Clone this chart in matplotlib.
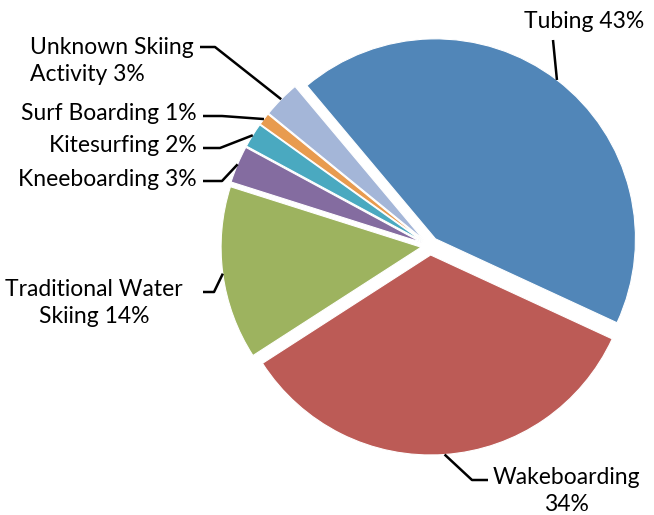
import numpy as np
import matplotlib
matplotlib.use("Agg")
import matplotlib.pyplot as plt

labels = ["Tubing", "Wakeboarding", "Traditional Water Skiing", "Kneeboarding",
          "Kitesurfing", "Surf Boarding", "Unknown Skiing Activity"]
shares = [43, 34, 14, 3, 2, 1, 3]
label_text = ["Tubing 43%", "Wakeboarding\n34%", "Traditional Water\nSkiing 14%",
              "Kneeboarding 3%", "Kitesurfing 2%", "Surf Boarding 1%",
              "Unknown Skiing\nActivity 3%"]
colors = ["#5186b8", "#bc5b56", "#9db35f", "#846ca0", "#4aa9c0", "#e89b4f", "#a4b6d8"]

plt.rcParams['font.family'] = ['Lato', 'DejaVu Sans']

W, H = 654, 515
cx, cy, R = 430, 246, 200.0

def px(x, y):
    # pixel position -> data coords (pie radius = 1)
    return ((x - cx) / R, (cy - y) / R)

fig = plt.figure(figsize=(W / 100, H / 100), dpi=100)
ax = fig.add_axes([0, 0, 1, 1])
wedges, _ = ax.pie(shares, colors=colors, startangle=130, counterclock=False,
                   explode=[0.045] * len(shares), radius=1,
                   wedgeprops=dict(edgecolor="white", linewidth=0.8))
ax.set_xlim(-cx / R, (W - cx) / R)
ax.set_ylim((cy - H) / R, cy / R)
ax.set_aspect("equal")
ax.axis("off")

# label layout: text position (px), alignment, leader points (px) before wedge edge
layout = {
    "Tubing": dict(xy=(584, 22), ha="center", ma="left", pts=[(553, 40)]),
    "Wakeboarding": dict(xy=(566, 491), ha="center", ma="center", pts=[(488, 480), (472, 480)]),
    "Traditional Water Skiing": dict(xy=(94, 303), ha="center", ma="center", pts=[(203, 292), (214, 292)]),
    "Kneeboarding": dict(xy=(197, 180), ha="right", ma="left", pts=[(203, 181), (222, 181)]),
    "Kitesurfing": dict(xy=(197, 146), ha="right", ma="left", pts=[(203, 148), (220, 148)]),
    "Surf Boarding": dict(xy=(197, 113), ha="right", ma="left", pts=[(203, 116), (222, 116)]),
    "Unknown Skiing Activity": dict(xy=(112, 61), ha="center", ma="left", pts=[(200, 47), (215, 47)]),
}

for w, name, txt in zip(wedges, labels, label_text):
    lay = layout[name]
    mid = np.deg2rad((w.theta1 + w.theta2) / 2)
    edge = (w.center[0] + 1.0 * np.cos(mid), w.center[1] + 1.0 * np.sin(mid))
    pts = [px(*p) for p in lay["pts"]] + [edge]
    xs, ys = zip(*pts)
    ax.plot(xs, ys, color="black", lw=1.8, solid_capstyle="butt")
    tx, ty = px(*lay["xy"])
    ax.text(tx, ty, txt, ha=lay["ha"], va="center", multialignment=lay["ma"],
            fontsize=16.5, color="black", linespacing=1.3)

fig.savefig("out.png", dpi=100)
